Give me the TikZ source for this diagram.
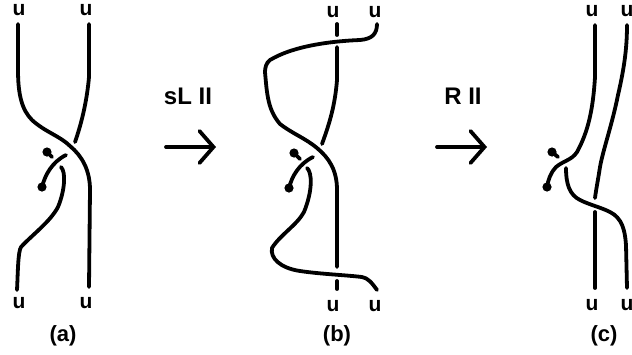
\documentclass[tikz,border=0pt]{standalone}
\usepackage{fontspec}
\setmainfont{Liberation Sans}
\usetikzlibrary{arrows.meta}
\tikzset{
  strand/.style={line width=3.8pt,line cap=round,line join=round},
  lab/.style={font=\fontsize{21}{21}\selectfont\bfseries,inner sep=0pt},
  caplab/.style={font=\fontsize{22}{22}\selectfont\bfseries,inner sep=0pt},
  movelab/.style={font=\fontsize{24}{24}\selectfont\bfseries,inner sep=0pt},
  move/.style={line width=3.8pt,line cap=round,-{Straight Barb[length=14pt,width=32pt,line cap=round]}},
}
\begin{document}
\begin{tikzpicture}[x=1pt,y=-1pt]
    \useasboundingbox (0,0) rectangle (632,354);
    % panel a
    \draw[strand] (18,24)--(18,70) .. controls (18,95) and (22,110) .. (32,120) .. controls (45,132) and (60,136) .. (70,146) .. controls (82,156) and (90,170) .. (90,190)--(89,287);
    \draw[strand] (89,24)--(89,77) .. controls (87,100) and (82,122) .. (75,142);
    \draw[strand] (61,167) .. controls (66,172) and (65,190) .. (58,207) .. controls (50,222) and (32,235) .. (21,247) .. controls (18,252) and (18,270) .. (17,290);
    \draw[strand] (42,187) .. controls (45,175) and (52,162) .. (66,155);
    \draw[strand] (47,152)--(52,157);
    \fill (42,187) circle (4.6) (47,152) circle (4.6);
    \node[lab] (ua1) at (19,10) {u};
    \node[lab] (ua2) at (86,10) {u};
    \node[lab] (ua3) at (19,303) {u};
    \node[lab] (ua4) at (86,303) {u};
    \node[caplab] (capa) at (63,336) {(a)};
    % first move
    \coordinate (m1a) at (166,147);
    \coordinate (m1b) at (216,147);
    \draw[move] (m1a)--(m1b);
    \node[movelab] (m1) at (188,96) {sL II};
    % panel b
    \draw[strand] (337,24)--(337,35);
    \draw[strand] (377,24) .. controls (377,34) and (372,39) .. (360,40) .. controls (335,41) and (295,45) .. (270,60) .. controls (266,63) and (265,68) .. (265,72) .. controls (267,95) and (268,110) .. (280,124) .. controls (293,134) and (305,138) .. (317,148) .. controls (329,158) and (337,170) .. (337,190)--(337,267);
    \draw[strand] (337,47)--(337,80) .. controls (335,105) and (330,122) .. (322,144);
    \draw[strand] (307,168) .. controls (312,172) and (313,190) .. (304,212) .. controls (297,225) and (280,235) .. (272,248) .. controls (270,258) and (280,268) .. (300,271) .. controls (320,274) and (345,275) .. (362,277) .. controls (368,278) and (372,283) .. (377,290);
    \draw[strand] (337,281)--(337,289);
    \draw[strand] (289,188) .. controls (292,176) and (299,164) .. (313,157);
    \draw[strand] (294,153)--(300,159);
    \fill (289,188) circle (4.6) (294,153) circle (4.6);
    \node[lab] (ub1) at (333,12) {u};
    \node[lab] (ub2) at (375,12) {u};
    \node[lab] (ub3) at (333,306) {u};
    \node[lab] (ub4) at (375,306) {u};
    \node[caplab] (capb) at (337,336) {(b)};
    % second move
    \coordinate (m2a) at (437,147);
    \coordinate (m2b) at (487,147);
    \draw[move] (m2a)--(m2b);
    \node[movelab] (m2) at (463,96) {R II};
    % panel c
    \draw[strand] (595,25)--(595,77) .. controls (593,110) and (588,132) .. (577,152) .. controls (572,160) and (563,161) .. (556,167) .. controls (551,172) and (548,180) .. (547,187);
    \draw[strand] (552,152)--(558,157);
    \fill (547,187) circle (4.6) (552,152) circle (4.6);
    \draw[strand] (627,25) .. controls (627,45) and (625,65) .. (618,95) .. controls (612,125) and (603,150) .. (600,167) .. controls (598,180) and (596,190) .. (595,198);
    \draw[strand] (566,168) .. controls (566,185) and (570,195) .. (580,200) .. controls (590,205) and (600,207) .. (610,212) .. controls (622,218) and (625,230) .. (626,245)--(627,288);
    \draw[strand] (595,212)--(595,288);
    \node[lab] (uc1) at (592,11) {u};
    \node[lab] (uc2) at (627,11) {u};
    \node[lab] (uc3) at (592,305) {u};
    \node[lab] (uc4) at (627,305) {u};
    \node[caplab] (capc) at (604,336) {(c)};
\end{tikzpicture}
\end{document}
